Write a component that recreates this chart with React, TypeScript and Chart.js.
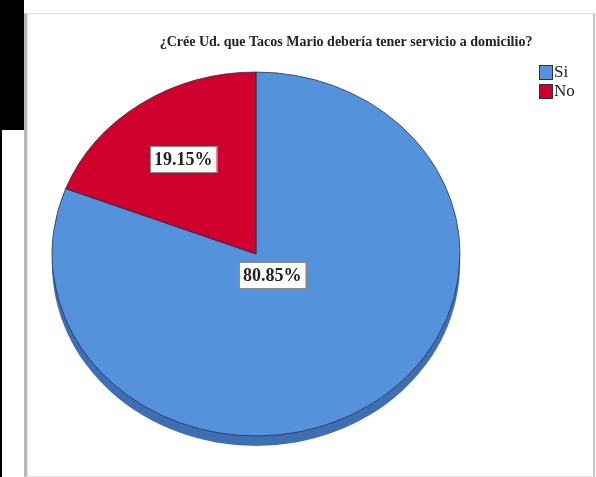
import React, { useEffect, useRef } from "react";
import { Chart, registerables } from "chart.js";

Chart.register(...registerables);

const categories = ["Si", "No"];
const values = [80.85, 19.15];
const percentLabels = ["80.85%", "19.15%"];
const sliceColors = ["#5592dc", "#d0002c"];
const titleText = "¿Crée Ud. que Tacos Mario debería tener servicio a domicilio?";

const Y_SCALE = 0.892;
const DEPTH = 10;
const LABEL_FRAC = [0.14, 0.63];
const SERIF = "'Liberation Serif', 'Times New Roman', serif";

const ellipsePlugin = {
  id: "ellipse3d",
  beforeDatasetsDraw(chart: any) {
    const arc = chart.getDatasetMeta(0).data[0];
    if (!arc) return;
    const { x, y, outerRadius } = arc;
    const ctx = chart.ctx;
    ctx.save();
    ctx.beginPath();
    ctx.ellipse(x, y + DEPTH, outerRadius, outerRadius * Y_SCALE, 0, 0, Math.PI * 2);
    ctx.fillStyle = "#3f6fb3";
    ctx.fill();
    ctx.translate(x, y);
    ctx.scale(1, Y_SCALE);
    ctx.translate(-x, -y);
  },
  afterDatasetsDraw(chart: any) {
    chart.ctx.restore();
  },
};

const textPlugin = {
  id: "texts",
  afterDraw(chart: any) {
    const ctx = chart.ctx;
    const meta = chart.getDatasetMeta(0);
    ctx.save();
    // title
    ctx.font = `bold 14px ${SERIF}`;
    ctx.fillStyle = "#222";
    ctx.textAlign = "center";
    ctx.textBaseline = "middle";
    ctx.fillText(titleText, 346, 42);
    // legend
    categories.forEach((c, i) => {
      const ly = 65 + i * 19;
      ctx.fillStyle = sliceColors[i];
      ctx.fillRect(539, ly, 14, 15);
      ctx.strokeStyle = "#333";
      ctx.lineWidth = 1;
      ctx.strokeRect(539.5, ly + 0.5, 13, 14);
      ctx.fillStyle = "#222";
      ctx.font = `17px ${SERIF}`;
      ctx.textAlign = "left";
      ctx.textBaseline = "middle";
      ctx.fillText(c, 554, ly + 8);
    });
    // data labels
    meta.data.forEach((arc: any, i: number) => {
      const mid = (arc.startAngle + arc.endAngle) / 2;
      const r = arc.outerRadius * LABEL_FRAC[i];
      const lx = arc.x + Math.cos(mid) * r;
      const ly = arc.y + Math.sin(mid) * r * Y_SCALE;
      ctx.font = `bold 18px ${SERIF}`;
      const w = ctx.measureText(percentLabels[i]).width + 8;
      const h = 26;
      ctx.fillStyle = "#ffffff";
      ctx.fillRect(lx - w / 2, ly - h / 2, w, h);
      ctx.strokeStyle = "#8a8a8a";
      ctx.lineWidth = 1;
      ctx.strokeRect(Math.round(lx - w / 2) + 0.5, Math.round(ly - h / 2) + 0.5, Math.round(w), h);
      ctx.fillStyle = "#222";
      ctx.textAlign = "center";
      ctx.textBaseline = "middle";
      ctx.fillText(percentLabels[i], lx, ly + 1);
    });
    ctx.restore();
  },
};

export default function App() {
  const ref = useRef<HTMLCanvasElement | null>(null);
  useEffect(() => {
    if (!ref.current) return;
    const chart = new Chart(ref.current, {
      type: "pie",
      data: {
        labels: categories,
        datasets: [
          {
            data: values,
            backgroundColor: sliceColors,
            borderColor: "#2a2a48",
            borderWidth: 0.8,
            radius: 204,
          },
        ],
      },
      options: {
        responsive: false,
        animation: false,
        layout: { padding: { left: 52, right: 136, top: 50, bottom: 19 } },
        plugins: {
          legend: { display: false },
          tooltip: { enabled: false },
          title: { display: false },
        },
      },
      plugins: [ellipsePlugin, textPlugin],
    });
    return () => chart.destroy();
  }, []);

  return (
    <div style={{ position: "fixed", left: 0, top: 0, width: 596, height: 477, background: "#fff", overflow: "hidden" }}>
      <div style={{ position: "absolute", left: 0, top: 0, width: 24, height: 130, background: "#000" }} />
      <div style={{ position: "absolute", left: 0, top: 0, width: 2, height: 477, background: "#000" }} />
      <div
        style={{
          position: "absolute",
          left: 24,
          top: 13,
          width: 566,
          height: 462,
          borderLeft: "3px solid #b5b5b5",
          borderTop: "1px solid #e4e4e4",
          borderRight: "2px solid #c4c4c4",
          borderBottom: "1px solid #e0e0e0",
          boxShadow: "inset 2px 0 2px rgba(0,0,0,0.08)",
          background: "#fff",
        }}
      />
      <canvas ref={ref} width={596} height={477} style={{ position: "absolute", left: 0, top: 0 }} />
    </div>
  );
}
